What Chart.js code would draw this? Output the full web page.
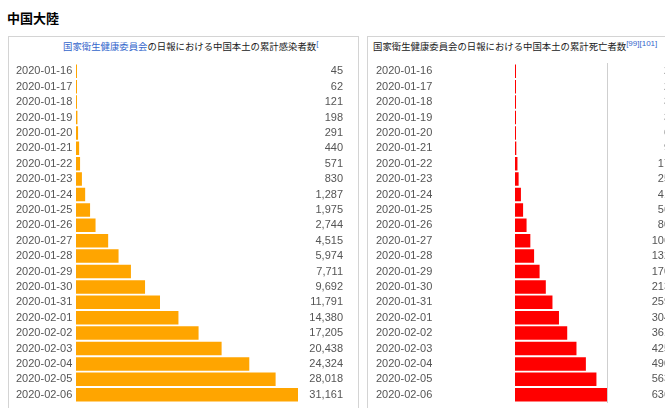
<!DOCTYPE html>
<html>
<head>
<meta charset="utf-8">
<script src="https://cdn.jsdelivr.net/npm/chart.js@4/dist/chart.umd.min.js"></script>
<style>
  html, body { margin:0; padding:0; background:#fff; }
  body { width:665px; height:408px; overflow:hidden; position:relative; font-family:"Liberation Sans", Arial, sans-serif; }
  .heading { position:absolute; left:7px; top:9px; font-family:"Noto Sans CJK JP", sans-serif; font-weight:bold; font-size:13px; line-height:18px; color:#000; }
  .panel { position:absolute; top:36px; height:420px; border:1px solid #d4d4d4; background:#fff; }
  .ptitle { position:absolute; top:40px; font-family:"Noto Sans CJK JP", sans-serif; font-size:9.4px; line-height:13px; color:#202122; white-space:nowrap; }
  .ptitle a { color:#3366cc; text-decoration:none; }
  .ptitle sup { font-size:8px; color:#3366cc; vertical-align:top; position:relative; top:-3px; font-family:"Liberation Sans", sans-serif; }
  canvas { position:absolute; }
</style>
</head>
<body>
<div class="heading">中国大陸</div>
<div class="panel" style="left:8px; width:349px;"></div>
<div class="panel" style="left:367px; width:330px;"></div>
<div class="ptitle" style="left:63px;"><a>国家衛生健康委員会</a>の日報における中国本土の累計感染者数<sup>[</sup></div>
<div class="ptitle" style="left:373px;">国家衛生健康委員会の日報における中国本土の累計死亡者数<sup>[99][101]</sup></div>
<canvas id="c1" width="348" height="352" style="left:9px; top:57px;"></canvas>
<canvas id="c2" width="320" height="352" style="left:368px; top:57px;"></canvas>
<script>
const dates = ["2020-01-16","2020-01-17","2020-01-18","2020-01-19","2020-01-20","2020-01-21","2020-01-22","2020-01-23","2020-01-24","2020-01-25","2020-01-26","2020-01-27","2020-01-28","2020-01-29","2020-01-30","2020-01-31","2020-02-01","2020-02-02","2020-02-03","2020-02-04","2020-02-05","2020-02-06"];
const infections = [45,62,121,198,291,440,571,830,1287,1975,2744,4515,5974,7711,9692,11791,14380,17205,20438,24324,28018,31161];
const deaths = [2,2,3,3,6,9,17,25,41,56,80,106,132,170,213,259,304,361,425,490,563,636];

const tickFont = { family: "Liberation Sans, Arial, sans-serif", size: 11 };
const tickColor = "#555";

function makeChart(id, values, color, opts) {
  const valueLabels = values.map(v => v.toLocaleString("en-US"));
  return new Chart(document.getElementById(id), {
    type: "bar",
    data: {
      labels: dates,
      datasets: [{
        data: values,
        backgroundColor: color,
        borderWidth: 0,
        minBarLength: 1,
        categoryPercentage: 1,
        barPercentage: 0.875,
        xAxisID: "x",
        yAxisID: "y"
      }]
    },
    options: {
      indexAxis: "y",
      responsive: false,
      animation: false,
      devicePixelRatio: 1,
      layout: { padding: { left: opts.padLeft, right: opts.padRight, top: 0, bottom: 0 } },
      plugins: { legend: { display: false }, tooltip: { enabled: false }, title: { display: false } },
      scales: {
        x: { display: false, min: 0, max: opts.max },
        y: {
          type: "category",
          position: "left",
          offset: true,
          grid: { display: false },
          border: { display: false },
          ticks: { font: tickFont, color: tickColor, crossAlign: "far", padding: 0, autoSkip: false },
          afterFit: s => { s.width = opts.leftW; }
        },
        y2: {
          type: "category",
          position: "right",
          labels: valueLabels,
          offset: true,
          grid: { display: false },
          border: { display: opts.rightBorder, color: "#cfcfcf", width: 1 },
          ticks: { font: tickFont, color: tickColor, crossAlign: "far", padding: 0, autoSkip: false },
          afterFit: s => { s.width = opts.rightW; }
        }
      }
    }
  });
}

makeChart("c1", infections, "#FFA500", { padLeft: 7, padRight: 14, leftW: 60, rightW: 45, max: 31161, rightBorder: false });
makeChart("c2", deaths, "#FF0000", { padLeft: 8, padRight: 18, leftW: 139, rightW: 63, max: 636, rightBorder: true });
</script>
</body>
</html>
